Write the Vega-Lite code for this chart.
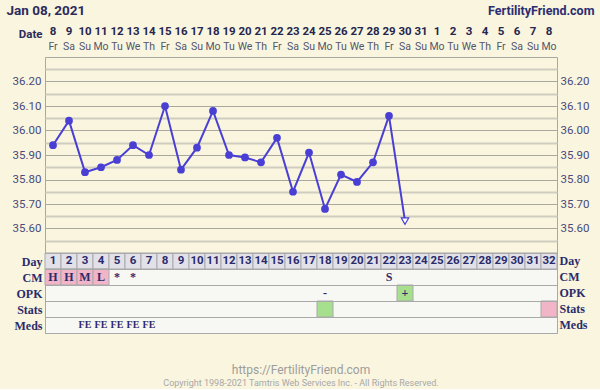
{
  "$schema": "https://vega.github.io/schema/vega-lite/v6.json",
  "background": "#f9f5df",
  "padding": {"left": 0, "right": 0, "top": 3, "bottom": 0},
  "spacing": 0,
  "bounds": "flush",
  "datasets": {
    "header": [
      {"day": 1, "row": "Date", "text": "8"}, {"day": 2, "row": "Date", "text": "9"}, {"day": 3, "row": "Date", "text": "10"},
      {"day": 4, "row": "Date", "text": "11"}, {"day": 5, "row": "Date", "text": "12"}, {"day": 6, "row": "Date", "text": "13"},
      {"day": 7, "row": "Date", "text": "14"}, {"day": 8, "row": "Date", "text": "15"}, {"day": 9, "row": "Date", "text": "16"},
      {"day": 10, "row": "Date", "text": "17"}, {"day": 11, "row": "Date", "text": "18"}, {"day": 12, "row": "Date", "text": "19"},
      {"day": 13, "row": "Date", "text": "20"}, {"day": 14, "row": "Date", "text": "21"}, {"day": 15, "row": "Date", "text": "22"},
      {"day": 16, "row": "Date", "text": "23"}, {"day": 17, "row": "Date", "text": "24"}, {"day": 18, "row": "Date", "text": "25"},
      {"day": 19, "row": "Date", "text": "26"}, {"day": 20, "row": "Date", "text": "27"}, {"day": 21, "row": "Date", "text": "28"},
      {"day": 22, "row": "Date", "text": "29"}, {"day": 23, "row": "Date", "text": "30"}, {"day": 24, "row": "Date", "text": "31"},
      {"day": 25, "row": "Date", "text": "1"}, {"day": 26, "row": "Date", "text": "2"}, {"day": 27, "row": "Date", "text": "3"},
      {"day": 28, "row": "Date", "text": "4"}, {"day": 29, "row": "Date", "text": "5"}, {"day": 30, "row": "Date", "text": "6"},
      {"day": 31, "row": "Date", "text": "7"}, {"day": 32, "row": "Date", "text": "8"},
      {"day": 1, "row": "dow", "text": "Fr"}, {"day": 2, "row": "dow", "text": "Sa"}, {"day": 3, "row": "dow", "text": "Su"},
      {"day": 4, "row": "dow", "text": "Mo"}, {"day": 5, "row": "dow", "text": "Tu"}, {"day": 6, "row": "dow", "text": "We"},
      {"day": 7, "row": "dow", "text": "Th"}, {"day": 8, "row": "dow", "text": "Fr"}, {"day": 9, "row": "dow", "text": "Sa"},
      {"day": 10, "row": "dow", "text": "Su"}, {"day": 11, "row": "dow", "text": "Mo"}, {"day": 12, "row": "dow", "text": "Tu"},
      {"day": 13, "row": "dow", "text": "We"}, {"day": 14, "row": "dow", "text": "Th"}, {"day": 15, "row": "dow", "text": "Fr"},
      {"day": 16, "row": "dow", "text": "Sa"}, {"day": 17, "row": "dow", "text": "Su"}, {"day": 18, "row": "dow", "text": "Mo"},
      {"day": 19, "row": "dow", "text": "Tu"}, {"day": 20, "row": "dow", "text": "We"}, {"day": 21, "row": "dow", "text": "Th"},
      {"day": 22, "row": "dow", "text": "Fr"}, {"day": 23, "row": "dow", "text": "Sa"}, {"day": 24, "row": "dow", "text": "Su"},
      {"day": 25, "row": "dow", "text": "Mo"}, {"day": 26, "row": "dow", "text": "Tu"}, {"day": 27, "row": "dow", "text": "We"},
      {"day": 28, "row": "dow", "text": "Th"}, {"day": 29, "row": "dow", "text": "Fr"}, {"day": 30, "row": "dow", "text": "Sa"},
      {"day": 31, "row": "dow", "text": "Su"}, {"day": 32, "row": "dow", "text": "Mo"}
    ],
    "temps": [
      {"day": 1, "temp": 35.94, "marker": "filled"}, {"day": 2, "temp": 36.04, "marker": "filled"},
      {"day": 3, "temp": 35.83, "marker": "filled"}, {"day": 4, "temp": 35.85, "marker": "filled"},
      {"day": 5, "temp": 35.88, "marker": "filled"}, {"day": 6, "temp": 35.94, "marker": "filled"},
      {"day": 7, "temp": 35.90, "marker": "filled"}, {"day": 8, "temp": 36.10, "marker": "filled"},
      {"day": 9, "temp": 35.84, "marker": "filled"}, {"day": 10, "temp": 35.93, "marker": "filled"},
      {"day": 11, "temp": 36.08, "marker": "filled"}, {"day": 12, "temp": 35.90, "marker": "filled"},
      {"day": 13, "temp": 35.89, "marker": "filled"}, {"day": 14, "temp": 35.87, "marker": "filled"},
      {"day": 15, "temp": 35.97, "marker": "filled"}, {"day": 16, "temp": 35.75, "marker": "filled"},
      {"day": 17, "temp": 35.91, "marker": "filled"}, {"day": 18, "temp": 35.68, "marker": "filled"},
      {"day": 19, "temp": 35.82, "marker": "filled"}, {"day": 20, "temp": 35.79, "marker": "filled"},
      {"day": 21, "temp": 35.87, "marker": "filled"}, {"day": 22, "temp": 36.06, "marker": "filled"},
      {"day": 23, "temp": 35.63, "marker": "open"}
    ],
    "cells": [
      {"day": 1, "row": "Day", "label": "1", "kind": "day"}, {"day": 2, "row": "Day", "label": "2", "kind": "day"},
      {"day": 3, "row": "Day", "label": "3", "kind": "day"}, {"day": 4, "row": "Day", "label": "4", "kind": "day"},
      {"day": 5, "row": "Day", "label": "5", "kind": "day"}, {"day": 6, "row": "Day", "label": "6", "kind": "day"},
      {"day": 7, "row": "Day", "label": "7", "kind": "day"}, {"day": 8, "row": "Day", "label": "8", "kind": "day"},
      {"day": 9, "row": "Day", "label": "9", "kind": "day"}, {"day": 10, "row": "Day", "label": "10", "kind": "day"},
      {"day": 11, "row": "Day", "label": "11", "kind": "day"}, {"day": 12, "row": "Day", "label": "12", "kind": "day"},
      {"day": 13, "row": "Day", "label": "13", "kind": "day"}, {"day": 14, "row": "Day", "label": "14", "kind": "day"},
      {"day": 15, "row": "Day", "label": "15", "kind": "day"}, {"day": 16, "row": "Day", "label": "16", "kind": "day"},
      {"day": 17, "row": "Day", "label": "17", "kind": "day"}, {"day": 18, "row": "Day", "label": "18", "kind": "day"},
      {"day": 19, "row": "Day", "label": "19", "kind": "day"}, {"day": 20, "row": "Day", "label": "20", "kind": "day"},
      {"day": 21, "row": "Day", "label": "21", "kind": "day"}, {"day": 22, "row": "Day", "label": "22", "kind": "day"},
      {"day": 23, "row": "Day", "label": "23", "kind": "day"}, {"day": 24, "row": "Day", "label": "24", "kind": "day"},
      {"day": 25, "row": "Day", "label": "25", "kind": "day"}, {"day": 26, "row": "Day", "label": "26", "kind": "day"},
      {"day": 27, "row": "Day", "label": "27", "kind": "day"}, {"day": 28, "row": "Day", "label": "28", "kind": "day"},
      {"day": 29, "row": "Day", "label": "29", "kind": "day"}, {"day": 30, "row": "Day", "label": "30", "kind": "day"},
      {"day": 31, "row": "Day", "label": "31", "kind": "day"}, {"day": 32, "row": "Day", "label": "32", "kind": "day"},
      {"day": 1, "row": "CM", "label": "H", "kind": "pink"}, {"day": 2, "row": "CM", "label": "H", "kind": "pink"},
      {"day": 3, "row": "CM", "label": "M", "kind": "pink"}, {"day": 4, "row": "CM", "label": "L", "kind": "pink"},
      {"day": 5, "row": "CM", "label": "*"}, {"day": 6, "row": "CM", "label": "*"},
      {"day": 22, "row": "CM", "label": "S"},
      {"day": 18, "row": "OPK", "label": "-"}, {"day": 23, "row": "OPK", "label": "+", "kind": "green"},
      {"day": 18, "row": "Stats", "label": "", "kind": "green"}, {"day": 32, "row": "Stats", "label": "", "kind": "pink"},
      {"day": 3, "row": "Meds", "label": "FE"}, {"day": 4, "row": "Meds", "label": "FE"},
      {"day": 5, "row": "Meds", "label": "FE"}, {"day": 6, "row": "Meds", "label": "FE"},
      {"day": 7, "row": "Meds", "label": "FE"}
    ]
  },
  "vconcat": [
    {
      "width": 512,
      "height": 38,
      "data": {"name": "header"},
      "view": {"stroke": null},
      "layer": [
        {
          "transform": [{"filter": "datum.row == 'Date'"}],
          "mark": {"type": "text", "font": "Roboto", "fontWeight": "bold", "fontSize": 11.5, "color": "#26264f", "baseline": "middle", "dy": 2},
          "encoding": {
            "x": {"field": "day", "type": "ordinal", "bandPosition": 0.5,
              "scale": {"type": "band", "domain": [1,2,3,4,5,6,7,8,9,10,11,12,13,14,15,16,17,18,19,20,21,22,23,24,25,26,27,28,29,30,31,32], "paddingInner": 0, "paddingOuter": 0},
              "axis": {"orient": "top", "title": "Jan 08, 2021", "labels": false, "ticks": false, "domain": false, "grid": false,
                "titleX": -39, "titleY": -5, "titleAlign": "left", "titleAnchor": "start", "titleBaseline": "alphabetic",
                "titleFont": "Roboto", "titleFontSize": 13.5, "titleFontWeight": "bold", "titleColor": "#2b2b5c", "titlePadding": 0}},
            "y": {"field": "row", "type": "ordinal", "bandPosition": 0.5,
              "scale": {"type": "band", "domain": ["Date", "dow"], "paddingInner": 0, "paddingOuter": 0.1176, "align": 0.625},
              "axis": null},
            "text": {"field": "text"}
          }
        },
        {
          "transform": [{"filter": "datum.row == 'dow'"}],
          "mark": {"type": "text", "font": "Roboto", "fontSize": 10.5, "color": "#55556a", "baseline": "middle"},
          "encoding": {
            "x": {"field": "day", "type": "ordinal", "bandPosition": 0.5,
              "scale": {"type": "band", "domain": [1,2,3,4,5,6,7,8,9,10,11,12,13,14,15,16,17,18,19,20,21,22,23,24,25,26,27,28,29,30,31,32], "paddingInner": 0, "paddingOuter": 0},
              "axis": {"orient": "top", "title": "FertilityFriend.com", "labels": false, "ticks": false, "domain": false, "grid": false,
                "titleX": 549, "titleY": -5, "titleAlign": "right", "titleAnchor": "end", "titleBaseline": "alphabetic",
                "titleFont": "Roboto", "titleFontSize": 12.5, "titleFontWeight": "bold", "titleColor": "#2d2d72", "titlePadding": 0}},
            "y": {"field": "row", "type": "ordinal", "bandPosition": 0.5,
              "scale": {"type": "band", "domain": ["Date", "dow"], "paddingInner": 0, "paddingOuter": 0.1176, "align": 0.625},
              "axis": null},
            "text": {"field": "text"}
          }
        },
        {
          "transform": [{"filter": "datum.row == 'Date'"}],
          "mark": {"type": "text", "opacity": 0, "baseline": "middle"},
          "encoding": {
            "x": {"field": "day", "type": "ordinal", "bandPosition": 0.5,
              "scale": {"type": "band", "domain": [1,2,3,4,5,6,7,8,9,10,11,12,13,14,15,16,17,18,19,20,21,22,23,24,25,26,27,28,29,30,31,32], "paddingInner": 0, "paddingOuter": 0},
              "axis": {"orient": "top", "title": "Date", "labels": false, "ticks": false, "domain": false, "grid": false,
                "titleX": -3, "titleY": 15, "titleAlign": "right", "titleAnchor": "start", "titleBaseline": "middle",
                "titleFont": "Roboto", "titleFontSize": 11.5, "titleFontWeight": "bold", "titleColor": "#2b2b5e", "titlePadding": 0}},
            "y": {"field": "row", "type": "ordinal", "bandPosition": 0.5,
              "scale": {"type": "band", "domain": ["Date", "dow"], "paddingInner": 0, "paddingOuter": 0.1176, "align": 0.625},
              "axis": null},
            "text": {"field": "text"}
          }
        }
      ],
      "resolve": {"axis": {"x": "independent"}}
    },
    {
      "width": 512,
      "height": 196,
      "data": {"name": "temps"},
      "view": {"stroke": "#a8a8a0", "fill": "#f9f5df"},
      "layer": [
        {
          "mark": {"type": "line", "color": "#4a3fd4", "strokeWidth": 2},
          "encoding": {
            "x": {"field": "day", "type": "ordinal", "bandPosition": 0.5,
              "scale": {"type": "band", "domain": [1,2,3,4,5,6,7,8,9,10,11,12,13,14,15,16,17,18,19,20,21,22,23,24,25,26,27,28,29,30,31,32], "paddingInner": 0, "paddingOuter": 0},
              "axis": {"orient": "bottom", "labels": false, "ticks": false, "domain": false, "title": null, "grid": true, "tickBand": "extent", "gridColor": "#aaa9a0", "gridWidth": 1, "minExtent": 0, "maxExtent": 0, "offset": 0}},
            "y": {"field": "temp", "type": "quantitative",
              "scale": {"domain": [35.5, 36.3], "nice": false, "zero": false},
              "axis": {"orient": "left", "values": [35.6, 35.7, 35.8, 35.9, 36.0, 36.1, 36.2], "format": ".2f", "grid": true,
                "gridColor": "#a8a89e", "gridWidth": 1, "ticks": false, "domain": false, "title": null,
                "labelFont": "Roboto", "labelFontSize": 11.5, "labelColor": "#4a4a7c", "labelPadding": 4, "minExtent": 44, "maxExtent": 44}}
          }
        },
        {
          "transform": [{"filter": "datum.marker == 'filled'"}],
          "mark": {"type": "point", "filled": true, "color": "#4a3fd4", "size": 60, "opacity": 1},
          "encoding": {
            "x": {"field": "day", "type": "ordinal", "bandPosition": 0.5, "axis": null},
            "y": {"field": "temp", "type": "quantitative",
              "scale": {"domain": [35.5, 36.3], "nice": false, "zero": false},
              "axis": {"orient": "right", "values": [35.6, 35.7, 35.8, 35.9, 36.0, 36.1, 36.2], "format": ".2f", "grid": false,
                "ticks": false, "domain": false, "title": null,
                "labelFont": "Roboto", "labelFontSize": 11.5, "labelColor": "#4a4a7c", "labelPadding": 3, "minExtent": 44, "maxExtent": 44}}
          }
        },
        {
          "transform": [{"filter": "datum.marker == 'open'"}],
          "mark": {"type": "point", "shape": "triangle-down", "filled": true, "fill": "#ffffff", "stroke": "#4a3fd4", "strokeWidth": 1.2, "size": 55, "opacity": 1},
          "encoding": {
            "x": {"field": "day", "type": "ordinal", "bandPosition": 0.5, "axis": null},
            "y": {"field": "temp", "type": "quantitative",
              "scale": {"domain": [35.5, 36.3], "nice": false, "zero": false},
              "axis": {"orient": "left", "values": [35.55, 35.65, 35.75, 35.85, 35.95, 36.05, 36.15, 36.25], "grid": true,
                "gridColor": "#cfcdc0", "gridWidth": 2, "labels": false, "ticks": false, "domain": false, "title": null,
                "minExtent": 44, "maxExtent": 44}}
          }
        }
      ],
      "resolve": {"axis": {"y": "independent"}}
    },
    {
      "width": 512,
      "height": 80,
      "data": {"name": "cells"},
      "view": {"stroke": "#a9a9a9", "fill": "#f7f7f3"},
      "title": {
        "text": "https://FertilityFriend.com",
        "subtitle": "Copyright 1998-2021 Tamtris Web Services Inc. - All Rights Reserved.",
        "orient": "bottom", "anchor": "middle", "frame": "group", "offset": 32,
        "font": "Roboto", "fontSize": 12, "fontWeight": "normal", "color": "#9d9d9d",
        "subtitleFont": "Roboto", "subtitleFontSize": 9, "subtitleColor": "#a8a8a8", "subtitlePadding": 2
      },
      "layer": [
        {
          "transform": [{"filter": "isValid(datum.kind)"}],
          "mark": {"type": "rect", "stroke": "#a9a9a9", "strokeWidth": 1},
          "encoding": {
            "x": {"field": "day", "type": "ordinal",
              "scale": {"type": "band", "domain": [1,2,3,4,5,6,7,8,9,10,11,12,13,14,15,16,17,18,19,20,21,22,23,24,25,26,27,28,29,30,31,32], "paddingInner": 0, "paddingOuter": 0},
              "axis": {"orient": "bottom", "labels": false, "ticks": false, "domain": false, "title": null, "grid": true, "tickBand": "extent", "gridColor": "#a9a9a9", "minExtent": 0, "maxExtent": 0}},
            "y": {"field": "row", "type": "ordinal",
              "scale": {"type": "band", "domain": ["Day", "CM", "OPK", "Stats", "Meds"], "paddingInner": 0, "paddingOuter": 0},
              "axis": {"orient": "left", "grid": true, "tickBand": "extent", "gridColor": "#a9a9a9", "ticks": false, "domain": false, "title": null,
                "labelFont": "Liberation Serif", "labelFontWeight": "bold", "labelFontSize": 12, "labelColor": "#2b2b6b",
                "labelPadding": 3, "minExtent": 44, "maxExtent": 44}},
            "color": {"field": "kind", "type": "nominal",
              "scale": {"domain": ["day", "pink", "green"], "range": ["#e2e1ea", "#f2b5c8", "#a6df8d"]}, "legend": null}
          }
        },
        {
          "transform": [{"filter": "datum.row == 'Day'"}],
          "mark": {"type": "text", "font": "Roboto", "fontWeight": "bold", "fontSize": 11.5, "color": "#2b2b6b", "baseline": "middle"},
          "encoding": {
            "x": {"field": "day", "type": "ordinal", "bandPosition": 0.5, "axis": null},
            "y": {"field": "row", "type": "ordinal", "bandPosition": 0.5,
              "axis": {"orient": "right", "grid": false, "ticks": false, "domain": false, "title": null,
                "labelFont": "Liberation Serif", "labelFontWeight": "bold", "labelFontSize": 12, "labelColor": "#2b2b6b",
                "labelPadding": 2, "minExtent": 44, "maxExtent": 44}},
            "text": {"field": "label"}
          }
        },
        {
          "transform": [{"filter": "datum.row == 'CM' || datum.row == 'OPK'"}],
          "mark": {"type": "text", "font": "Liberation Serif", "fontWeight": "bold", "fontSize": 12, "color": "#2b2b6b", "baseline": "middle"},
          "encoding": {
            "x": {"field": "day", "type": "ordinal", "bandPosition": 0.5, "axis": null},
            "y": {"field": "row", "type": "ordinal", "bandPosition": 0.5, "axis": null},
            "text": {"field": "label"}
          }
        },
        {
          "transform": [{"filter": "datum.row == 'Meds'"}],
          "mark": {"type": "text", "font": "Liberation Serif", "fontWeight": "bold", "fontSize": 10, "color": "#2b2b6b", "baseline": "middle"},
          "encoding": {
            "x": {"field": "day", "type": "ordinal", "bandPosition": 0.5, "axis": null},
            "y": {"field": "row", "type": "ordinal", "bandPosition": 0.5, "axis": null},
            "text": {"field": "label"}
          }
        }
      ],
      "resolve": {"axis": {"y": "independent"}}
    }
  ]
}
